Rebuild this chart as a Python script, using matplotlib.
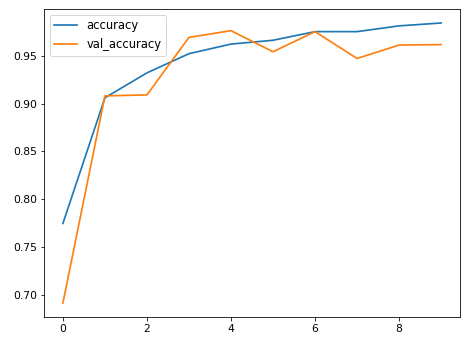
import matplotlib
matplotlib.use("Agg")
import matplotlib.pyplot as plt

epochs = [0, 1, 2, 3, 4, 5, 6, 7, 8, 9]
accuracy = [0.775, 0.906, 0.932, 0.952, 0.962, 0.966, 0.975, 0.975, 0.981, 0.984]
val_accuracy = [0.692, 0.908, 0.909, 0.969, 0.976, 0.954, 0.975, 0.947, 0.961, 0.9615]

fig = plt.figure(figsize=(468/72, 344/72), dpi=72)
ax = fig.add_axes([44/468, 27/344, (460-44)/468, (317-9)/344])
ax.plot(epochs, accuracy, label="accuracy", lw=1.7)
ax.plot(epochs, val_accuracy, label="val_accuracy", lw=1.7)
ax.tick_params(labelsize=10.8)
ax.legend(loc="upper left", fontsize=11.5)
fig.savefig("out.png", dpi=72)
